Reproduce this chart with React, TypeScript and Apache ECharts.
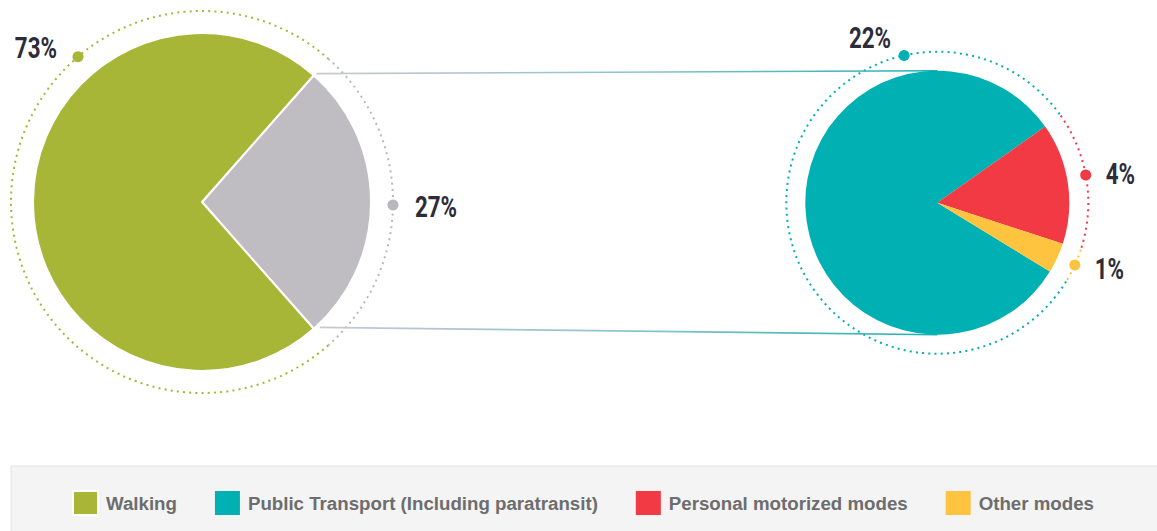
import React, { useEffect, useRef } from 'react';
import * as echarts from 'echarts';

// ---- data ----
const mainCategories = ['Other modes of travel', 'Walking'];
const mainValues = [27, 73];
const mainColors = ['#bfbdc2', '#a8b637'];
const mainRingColors = ['#b9b8bd', '#a8b637'];

const detailCategories = ['Public Transport (Including paratransit)', 'Personal motorized modes', 'Other modes'];
const detailValues = [22, 4, 1];
const detailColors = ['#00b0b3', '#f13a43', '#fec43f'];

const legendItems = ['Walking', 'Public Transport (Including paratransit)', 'Personal motorized modes', 'Other modes'];

// ---- layout ----
const W = 1157;
const H = 531;
const mainCenter = [202, 202];
const mainRadius = 169;
const mainRing = 191;
const detailCenter = [937.3, 202.7];
const detailRadius = 132;
const detailRing = 151;
// angle (deg, counter-clockwise from 3 o'clock) of each marker dot, and label offsets
const mainLabelLayout = [
  { angle: -0.9, dx: 22, dy: 2, align: 'left' },
  { angle: 130.5, dx: -21, dy: -9, align: 'right' },
];
const detailLabelLayout = [
  { angle: 102.7, dx: -13, dy: -17.5, align: 'right' },
  { angle: 10.6, dx: 20, dy: -1.5, align: 'left' },
  { angle: -24.4, dx: 20, dy: 4, align: 'left' },
];

const total = (a: number[]) => a.reduce((s, v) => s + v, 0);

export default function App() {
  const ref = useRef<HTMLDivElement>(null);

  useEffect(() => {
    document.body.style.margin = '0';
    if (!ref.current) return;
    const chart = echarts.init(ref.current, undefined, { renderer: 'svg' });

    const mainTotal = total(mainValues);
    const detailTotal = total(detailValues);
    // grey slice centred on 3 o'clock
    const mainStart = ((mainValues[0] / mainTotal) * 360) / 2;
    // red + yellow slices placed on the right
    const detailStart = 35.2 + ((detailValues[0] / detailTotal) * 360);

    const spans = (values: number[], start: number) => {
      const t = total(values);
      let a = start;
      return values.map((v) => {
        const s = a;
        a -= (v / t) * 360;
        return [s, a];
      });
    };

    const rad = Math.PI / 180;
    const pt = (c: number[], r: number, deg: number) => [c[0] + r * Math.cos(deg * rad), c[1] - r * Math.sin(deg * rad)];

    const graphics: any[] = [];
    // legend box
    graphics.push({
      type: 'rect',
      z: 0,
      shape: { x: 11, y: 466, width: W, height: 80 },
      style: { fill: '#f4f4f4', stroke: '#e2e2e2', lineWidth: 1 },
      silent: true,
    });

    const rings = (values: number[], start: number, c: number[], r: number, colors: string[]) => {
      spans(values, start).forEach(([s, e], i) => {
        graphics.push({
          type: 'arc',
          silent: true,
          shape: { cx: c[0], cy: c[1], r, startAngle: -s * rad, endAngle: -e * rad, clockwise: true },
          style: { stroke: colors[i], fill: null, lineWidth: 2, lineDash: [2, 4.2] },
        });
      });
    };
    rings(mainValues, mainStart, mainCenter, mainRing, mainRingColors);
    rings(detailValues, detailStart, detailCenter, detailRing, detailColors);

    // connector lines
    const mSpan = spans(mainValues, mainStart)[0];
    const p1 = pt(mainCenter, mainRadius + 3, mSpan[0] - 0.3);
    const p2 = pt(mainCenter, mainRadius + 3, mSpan[1] + 1.8);
    const grad = () =>
      new echarts.graphic.LinearGradient(0, 0, 1, 0, [
        { offset: 0, color: '#c9c8cd' },
        { offset: 0.5, color: '#8cc6c8' },
        { offset: 1, color: '#1fb0b3' },
      ]);
    graphics.push({
      type: 'line',
      silent: true,
      shape: { x1: p1[0], y1: p1[1], x2: detailCenter[0], y2: detailCenter[1] - detailRadius },
      style: { stroke: grad(), lineWidth: 1.6 },
    });
    graphics.push({
      type: 'line',
      silent: true,
      shape: { x1: p2[0], y1: p2[1], x2: detailCenter[0], y2: detailCenter[1] + detailRadius },
      style: { stroke: grad(), lineWidth: 1.6 },
    });

    const markers = (values: number[], c: number[], r: number, colors: string[], layout: any[]) => {
      values.forEach((v, i) => {
        const L = layout[i];
        const p = pt(c, r, L.angle);
        graphics.push({
          type: 'circle',
          silent: true,
          z: 5,
          shape: { cx: p[0], cy: p[1], r: 5.5 },
          style: { fill: colors[i] },
        });
        graphics.push({
          type: 'text',
          silent: true,
          z: 5,
          x: p[0] + L.dx,
          y: p[1] + L.dy,
          scaleX: 0.77,
          style: {
            text: v + '%',
            x: 0,
            y: 0,
            align: L.align,
            verticalAlign: 'middle',
            fontFamily: 'Roboto, sans-serif',
            fontWeight: 'bold',
            fontSize: 29,
            fill: '#2d2c3a',
          },
        });
      });
    };
    markers(mainValues, mainCenter, mainRing, mainRingColors, mainLabelLayout);
    markers(detailValues, detailCenter, detailRing, detailColors, detailLabelLayout);

    chart.setOption({
      animation: false,
      legend: {
        data: legendItems,
        left: 72,
        top: 490,
        padding: 0,
        z: 10,
        icon: 'rect',
        itemWidth: 25,
        itemHeight: 24,
        itemGap: 38,
        selectedMode: false,
        textStyle: {
          fontFamily: "'Liberation Sans', Arial, sans-serif",
          fontWeight: 'bold',
          fontSize: 18.7,
          color: '#6d6d6d',
          padding: [0, 0, 0, 3],
        },
      },
      series: [
        {
          type: 'pie',
          center: mainCenter,
          radius: [0, mainRadius],
          startAngle: mainStart,
          clockwise: true,
          silent: true,
          label: { show: false },
          labelLine: { show: false },
          itemStyle: { borderColor: '#ffffff', borderWidth: 2 },
          data: mainCategories.map((n, i) => ({ name: n, value: mainValues[i], itemStyle: { color: mainColors[i] } })),
        },
        {
          type: 'pie',
          center: detailCenter,
          radius: [0, detailRadius],
          startAngle: detailStart,
          clockwise: true,
          silent: true,
          label: { show: false },
          labelLine: { show: false },
          data: detailCategories.map((n, i) => ({ name: n, value: detailValues[i], itemStyle: { color: detailColors[i] } })),
        },
      ],
      graphic: graphics,
    });

    return () => chart.dispose();
  }, []);

  return <div ref={ref} style={{ width: W, height: H }} />;
}
